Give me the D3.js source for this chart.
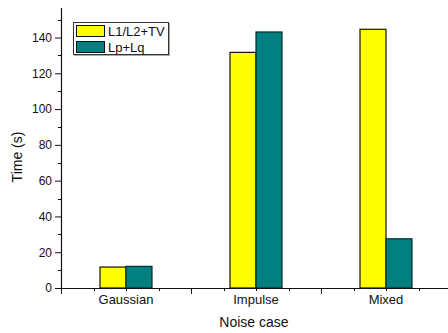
<!DOCTYPE html>
<html>
<head>
<meta charset="utf-8">
<script src="https://cdn.jsdelivr.net/npm/d3@7"></script>
<style>
  html, body { margin: 0; padding: 0; background: #fff; }
  svg { display: block; font-family: "Liberation Sans", Arial, sans-serif; }
</style>
</head>
<body>
<svg id="chart" width="448" height="333"></svg>
<script>
// Noise cases and run times (seconds) for the two methods
const categories = ["Gaussian", "Impulse", "Mixed"];
const seriesNames = ["L1/L2+TV", "Lp+Lq"];
const seriesColors = ["#ffff00", "#008080"];
const timeL1L2TV = [11.7, 131.7, 144.6];
const timeLpLq = [12.1, 143.1, 27.5];
const yTickValues = [0, 20, 40, 60, 80, 100, 120, 140];
const xLabel = "Noise case";
const yLabel = "Time (s)";

const svg = d3.select("#chart");
const plotLeft = 61, plotRight = 451, plotTop = 8, plotBottom = 288;

const x = d3.scaleBand().domain(categories).range([plotLeft, plotRight]).padding(0);
const y = d3.scaleLinear().domain([0, 156.5]).range([plotBottom, plotTop]);
const barW = 26;

const series = [timeL1L2TV, timeLpLq];

// Bars: the two methods side by side around each category centre
series.forEach((vals, si) => {
  svg.append("g").selectAll("rect")
    .data(categories.map((c, i) => ({ c, v: vals[i] })))
    .join("rect")
    .attr("x", d => x(d.c) + x.bandwidth() / 2 + (si - 1) * barW)
    .attr("y", d => y(d.v))
    .attr("width", barW)
    .attr("height", d => y(0) - y(d.v))
    .attr("fill", seriesColors[si])
    .attr("stroke", si === 0 ? "#111" : "#0b2b2b")
    .attr("stroke-width", 1.2);
});

// Y axis: major ticks every 20, minor every 10
const yAxis = d3.axisLeft(y).tickValues(yTickValues).tickSize(6).tickPadding(3);
const gy = svg.append("g").attr("transform", `translate(${plotLeft},0)`).call(yAxis);
gy.select(".domain").remove();
gy.selectAll("text").attr("font-size", 12).attr("fill", "#111");
gy.selectAll("line").attr("stroke", "#111");
svg.append("g").selectAll("line")
  .data(d3.range(10, 156, 20))
  .join("line")
  .attr("x1", plotLeft - 3).attr("x2", plotLeft)
  .attr("y1", d => Math.round(y(d)) + 0.5).attr("y2", d => Math.round(y(d)) + 0.5)
  .attr("stroke", "#111");
svg.append("line")
  .attr("x1", plotLeft + 0.5).attr("x2", plotLeft + 0.5)
  .attr("y1", plotTop).attr("y2", plotBottom + 0.5)
  .attr("stroke", "#111").attr("stroke-width", 1.2);

// X axis: long ticks at band edges, short ticks at quarter positions
const bw = x.bandwidth();
const xTicks = d3.range(0, categories.length * 4 + 1).map(k => ({ pos: plotLeft + k * bw / 4, major: k % 4 === 0 }));
svg.append("g").selectAll("line")
  .data(xTicks)
  .join("line")
  .attr("x1", d => Math.round(d.pos) + 0.5).attr("x2", d => Math.round(d.pos) + 0.5)
  .attr("y1", plotBottom).attr("y2", d => plotBottom + (d.major ? 6 : 3))
  .attr("stroke", "#111");
svg.append("line")
  .attr("x1", plotLeft).attr("x2", plotRight)
  .attr("y1", plotBottom + 0.5).attr("y2", plotBottom + 0.5)
  .attr("stroke", "#111").attr("stroke-width", 1.2);

svg.append("g").selectAll("text")
  .data(categories)
  .join("text")
  .attr("x", d => x(d) + bw / 2)
  .attr("y", 304)
  .attr("text-anchor", "middle")
  .attr("font-size", 13)
  .attr("fill", "#111")
  .text(d => d);

// Axis titles
svg.append("text")
  .attr("x", 254).attr("y", 327)
  .attr("text-anchor", "middle")
  .attr("font-size", 14).attr("fill", "#111")
  .text(xLabel);
svg.append("text")
  .attr("transform", "translate(22,157) rotate(-90)")
  .attr("text-anchor", "middle")
  .attr("font-size", 14).attr("fill", "#111")
  .text(yLabel);

// Legend
const lg = svg.append("g");
lg.append("rect").attr("x", 74.5).attr("y", 23.5).attr("width", 95).attr("height", 32)
  .attr("fill", "none").attr("stroke", "#aaa").attr("stroke-width", 1);
lg.append("rect").attr("x", 73.5).attr("y", 22.5).attr("width", 95).attr("height", 32)
  .attr("fill", "#fff").attr("stroke", "#333").attr("stroke-width", 1);
seriesNames.forEach((name, i) => {
  lg.append("rect")
    .attr("x", 76.5).attr("y", 25.5 + i * 16).attr("width", 28).attr("height", 11)
    .attr("fill", seriesColors[i]).attr("stroke", "#111");
  lg.append("text")
    .attr("x", 108).attr("y", 36 + i * 16)
    .attr("font-size", 13).attr("fill", "#111")
    .text(name);
});
</script>
</body>
</html>
